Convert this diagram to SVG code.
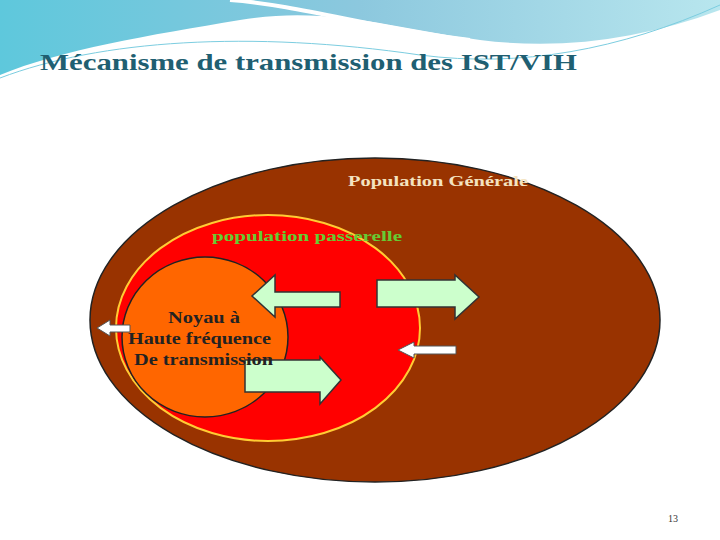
<svg xmlns="http://www.w3.org/2000/svg" width="720" height="540" viewBox="0 0 720 540">
<defs>
<linearGradient id="sky" x1="0" y1="0" x2="1" y2="0"><stop offset="0" stop-color="#5ec8dc"/><stop offset="0.5" stop-color="#8cc8de"/><stop offset="1" stop-color="#b8e6ee"/></linearGradient>
</defs>
<style>
.t{font-family:"Liberation Serif",serif;font-weight:bold}
.ga{fill:#ccffcc;stroke:#333;stroke-width:1.5}
.wa{fill:#fff;stroke:#555;stroke-width:1}
</style>
<rect width="720" height="540" fill="#fff"/>
<path d="M0,0 H720 V10 C640,40 560,50 480,40 C400,30 330,5 240,20 C150,35 60,50 0,75 Z" fill="url(#sky)"/>
<path d="M0,78 C100,40 250,30 420,55 C520,68 620,50 720,5" fill="none" stroke="#7ccde0" stroke-width="1"/>
<path d="M230,0 C300,5 380,30 470,40" fill="none" stroke="#fff" stroke-width="4"/>
<text class="t" x="40" y="70" font-size="24" fill="#1f5f72" textLength="537" lengthAdjust="spacingAndGlyphs">Mécanisme de transmission des IST/VIH</text>
<g id="population-generale"><ellipse cx="375" cy="320" rx="285" ry="162" fill="#993300" stroke="#222" stroke-width="1.5"/>
<text class="t" x="348" y="186" font-size="15" fill="#f4e3c0" textLength="180" lengthAdjust="spacingAndGlyphs">Population  Générale</text></g>
<g id="population-passerelle"><ellipse cx="268" cy="328" rx="152" ry="113" fill="#ff0000" stroke="#ffcc33" stroke-width="2"/>
<text class="t" x="212" y="241" font-size="15" fill="#66cc33" textLength="190" lengthAdjust="spacingAndGlyphs">population  passerelle</text></g>
<g id="noyau-shape"><ellipse cx="205" cy="337" rx="83" ry="80" fill="#ff6600" stroke="#222" stroke-width="1.5"/></g>
<g id="connectors">
<polygon class="ga" points="340,292 340,307 275,307 275,317 252,296 275,275 275,292"/>
<polygon class="ga" points="377,280 455,280 455,275 479,297 455,319 455,307 377,307"/>
<polygon class="wa" points="130,325 130,332 110,332 110,336 97,328 110,320 110,325"/>
<polygon class="wa" points="456,346 456,354 414,354 414,358 398,350 414,342 414,346"/>
<polygon class="ga" points="245,360 320,360 320,357 341,380 320,404 320,392 245,392"/>
</g>
<g id="noyau" class="t" font-size="16" fill="#222">
<text x="168" y="323" textLength="72" lengthAdjust="spacingAndGlyphs">Noyau  à</text>
<text x="128" y="344" textLength="143" lengthAdjust="spacingAndGlyphs">Haute fréquence</text>
<text x="134" y="365" textLength="139" lengthAdjust="spacingAndGlyphs">De transmission</text>
</g>
<text x="668" y="522" font-family="Liberation Serif,serif" font-size="10" fill="#333">13</text>
</svg>
